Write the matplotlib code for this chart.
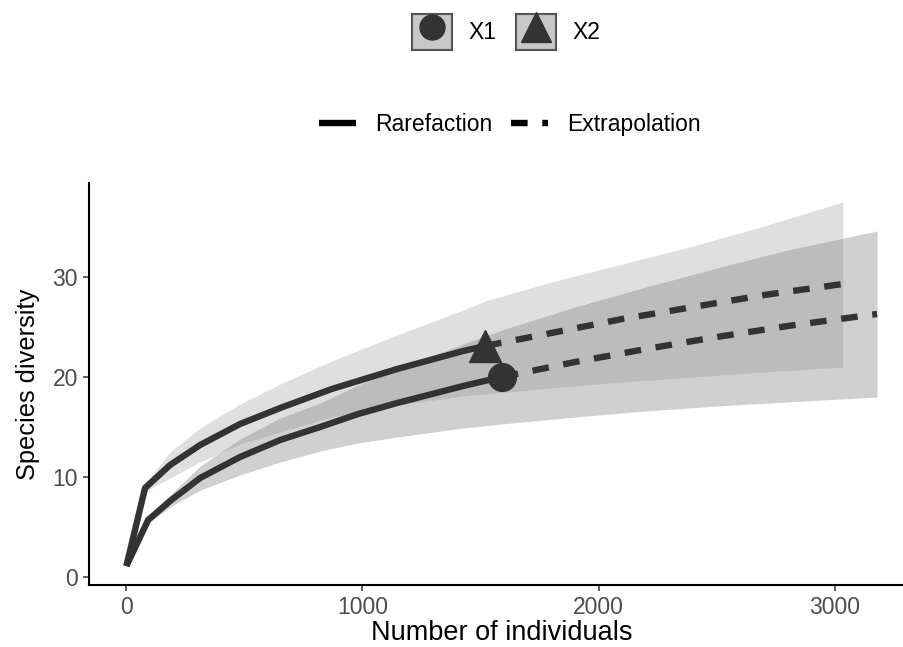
import matplotlib
matplotlib.use("Agg")
import matplotlib.pyplot as plt
from matplotlib.lines import Line2D
from matplotlib.patches import Patch
from matplotlib.legend_handler import HandlerTuple

plt.rcParams['font.family'] = ['Liberation Sans', 'DejaVu Sans']

# ---- data ----
sites = ['X1', 'X2']
methods = ['Rarefaction', 'Extrapolation']

x1_m = [1, 93, 186, 313, 482, 652, 821, 982, 1147, 1426, 1590, 1900, 2200, 2500, 2800, 3178]
x1_qD = [1.1, 5.7, 7.6, 9.9, 12.0, 13.7, 15.0, 16.3, 17.4, 19.1, 20.0, 21.5, 22.8, 24.0, 25.1, 26.3]
x1_lcl = [1.0, 5.4, 7.0, 8.7, 10.2, 11.5, 12.6, 13.4, 14.0, 14.9, 15.3, 16.0, 16.6, 17.1, 17.5, 18.0]
x1_ucl = [1.2, 6.0, 8.2, 11.1, 13.8, 15.9, 17.4, 19.2, 20.8, 23.3, 24.7, 27.0, 29.0, 30.9, 32.7, 34.6]
x1_method = ['Rarefaction'] * 10 + ['Observed'] + ['Extrapolation'] * 5

x2_m = [1, 80, 186, 313, 482, 652, 870, 1147, 1426, 1519, 1800, 2100, 2400, 2700, 3033]
x2_qD = [1.1, 8.9, 11.2, 13.2, 15.3, 16.9, 18.8, 20.8, 22.6, 23.1, 24.4, 25.8, 27.0, 28.2, 29.3]
x2_lcl = [1.0, 8.5, 9.9, 11.5, 13.3, 14.5, 16.0, 17.2, 18.1, 18.3, 18.9, 19.5, 20.0, 20.5, 21.0]
x2_ucl = [1.2, 9.3, 12.5, 14.9, 17.3, 19.3, 21.6, 24.2, 26.7, 27.6, 29.5, 31.3, 33.1, 35.1, 37.5]
x2_method = ['Rarefaction'] * 9 + ['Observed'] + ['Extrapolation'] * 5

xticks = [0, 1000, 2000, 3000]
yticks = [0, 10, 20, 30]

# ---- styles ----
line_col = '#333333'
fills = {'X1': '#474747', 'X2': '#858585'}
markers = {'X1': 'o', 'X2': '^'}
msizes = {'X1': 20, 'X2': 23}
LW = 4.6
DASH = (2.6, 2.3)

fig = plt.figure(figsize=(9.04, 6.47), dpi=100)
ax = fig.add_axes([0.0985, 0.0958, 0.9015, 0.6214])

data = {
    'X1': (x1_m, x1_qD, x1_lcl, x1_ucl, x1_method),
    'X2': (x2_m, x2_qD, x2_lcl, x2_ucl, x2_method),
}

for s in sites:
    m, q, lo, hi, meth = data[s]
    ax.fill_between(m, lo, hi, color=fills[s], alpha=0.255, linewidth=0, zorder=1)

for s in sites:
    m, q, lo, hi, meth = data[s]
    r_idx = [i for i, k in enumerate(meth) if k in ('Rarefaction', 'Observed')]
    e_idx = [i for i, k in enumerate(meth) if k in ('Observed', 'Extrapolation')]
    ax.plot([m[i] for i in r_idx], [q[i] for i in r_idx], color=line_col, lw=LW,
            solid_capstyle='butt', solid_joinstyle='round', zorder=3)
    ax.plot([m[i] for i in e_idx], [q[i] for i in e_idx], color=line_col, lw=LW,
            dashes=DASH, dash_capstyle='butt', zorder=3)
    o = meth.index('Observed')
    ax.plot([m[o]], [q[o]], marker=markers[s], color=line_col, markersize=msizes[s],
            linestyle='none', zorder=4)

ax.set_xlim(-157, 3292)
ax.set_ylim(-0.8, 39.4)
ax.set_xticks(xticks)
ax.set_yticks(yticks)
for sp in ['top', 'right']:
    ax.spines[sp].set_visible(False)
for sp in ['left', 'bottom']:
    ax.spines[sp].set_linewidth(1.5)
    ax.spines[sp].set_color('black')
ax.tick_params(axis='both', length=4, width=1.1, color='#333333',
               labelsize=16.5, labelcolor='#4d4d4d', pad=4)
ax.set_xlabel('Number of individuals', fontsize=19.5, va='center')
ax.xaxis.set_label_coords(0.507, -0.12)
ax.set_ylabel('Species diversity', fontsize=18.3, labelpad=9)

# ---- legends ----
key_face = '#c8c8c8'
key_edge = '#555555'
h1 = []
for s in sites:
    h1.append((Patch(facecolor=key_face, edgecolor=key_edge, linewidth=1.5),
               Line2D([], [], marker=markers[s], color=line_col, linestyle='none',
                      markersize=msizes[s] - 2)))
leg1 = fig.legend(h1, sites, loc='center', bbox_to_anchor=(0.5597, 0.9505), ncol=2,
                  frameon=False, fontsize=16.5, handlelength=1.75, handleheight=2.03,
                  handletextpad=0.7, columnspacing=0.87,
                  handler_map={tuple: HandlerTuple(ndivide=1)})

h2 = [Line2D([], [], color='black', lw=LW, solid_capstyle='butt'),
      Line2D([], [], color='black', lw=LW, dashes=DASH, dash_capstyle='butt')]
leg2 = fig.legend(h2, methods, loc='center', bbox_to_anchor=(0.564, 0.807), ncol=2,
                  frameon=False, fontsize=16.5, handlelength=1.61,
                  handletextpad=0.83, columnspacing=0.83)

fig.savefig('out.png', dpi=100)
